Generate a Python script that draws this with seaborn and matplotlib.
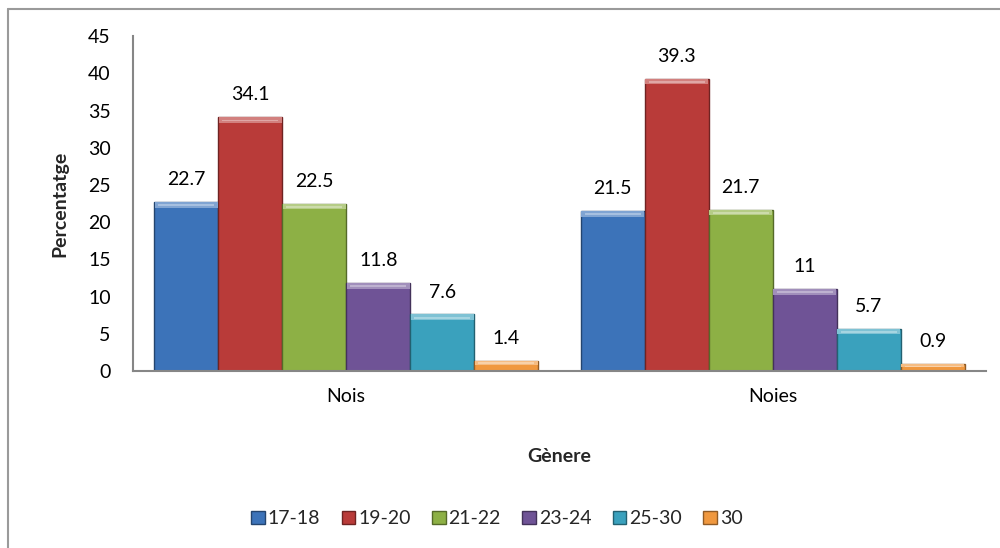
import matplotlib
matplotlib.use("Agg")
import matplotlib.pyplot as plt
import seaborn as sns
import pandas as pd
from matplotlib.patches import Rectangle
from matplotlib.lines import Line2D
import matplotlib.colors as mcolors

genders = ["Nois", "Noies"]
ages = ["17-18", "19-20", "21-22", "23-24", "25-30", "30"]
nois = [22.7, 34.1, 22.5, 11.8, 7.6, 1.4]
noies = [21.5, 39.3, 21.7, 11, 5.7, 0.9]
colors = ["#3C73B9", "#B93B39", "#8DB045", "#6F5396", "#3AA1BD", "#F0983F"]
label_text = {"Nois": ["22.7", "34.1", "22.5", "11.8", "7.6", "1.4"],
              "Noies": ["21.5", "39.3", "21.7", "11", "5.7", "0.9"]}

rows = []
for g, vals in zip(genders, [nois, noies]):
    for a, v in zip(ages, vals):
        rows.append({"Gènere": g, "Edat": a, "Percentatge": v})
df = pd.DataFrame(rows)

sns.set_theme(style="white")
plt.rcParams["font.family"] = ["Lato", "DejaVu Sans"]
FS = 14

fig = plt.figure(figsize=(10, 5.48), dpi=100)
ax = fig.add_axes([0.133, 0.323, 0.853, 0.611])

sns.barplot(data=df, x="Gènere", y="Percentatge", hue="Edat", order=genders,
            hue_order=ages, palette=colors, width=0.9, gap=0, ax=ax,
            legend=False, saturation=1, linewidth=0)

# bevel-like effects derived from the drawn bars
for i, cont in enumerate(ax.containers):
    base = mcolors.to_rgb(colors[i])
    dark = tuple(c * 0.6 for c in base)
    light = tuple(min(1, c + (1 - c) * 0.35) for c in base)
    lighter = tuple(min(1, c + (1 - c) * 0.55) for c in base)
    for p in cont.patches:
        p.set_edgecolor(dark)
        p.set_linewidth(1.0)
        x0, w, h = p.get_x(), p.get_width(), p.get_height()
        band = min(0.75, h * 0.45)
        ax.add_patch(Rectangle((x0 + w * 0.01, h - band), w * 0.98, band,
                               facecolor=light, edgecolor="none", zorder=3))
        ax.add_patch(Rectangle((x0 + w * 0.06, h - band * 0.75), w * 0.88, band * 0.35,
                               facecolor=lighter, edgecolor="none", zorder=3))

for i, cont in enumerate(ax.containers):
    labels = [label_text[g][i] for g in genders]
    ax.bar_label(cont, labels=labels, padding=10, fontsize=FS, color="#000000")

ax.set_ylim(0, 45)
ax.set_yticks(range(0, 46, 5))
ax.set_xlim(-0.5, 1.5)
ax.tick_params(axis="y", labelsize=FS, length=0, pad=16, colors="#000000")
ax.tick_params(axis="x", labelsize=FS, length=0, pad=12, colors="#000000")
ax.set_ylabel("Percentatge", fontsize=FS, fontweight="bold", labelpad=14)
ax.set_xlabel("Gènere", fontsize=FS, fontweight="bold", labelpad=31)

for s in ["top", "right"]:
    ax.spines[s].set_visible(False)
for s in ["left", "bottom"]:
    ax.spines[s].set_color("#868686")
    ax.spines[s].set_linewidth(1.5)
ax.spines["bottom"].set_zorder(5)

handles = [Rectangle((0, 0), 1, 1, facecolor=c, edgecolor=tuple(x * 0.6 for x in mcolors.to_rgb(c)))
           for c in colors]
fig.legend(handles, ages, loc="center", bbox_to_anchor=(0.497, 0.053), ncol=6,
           frameon=False, fontsize=FS, handlelength=0.7, handleheight=0.7,
           handletextpad=0.15, columnspacing=1.1)

# outer chart border (top and left visible)
fig.add_artist(Line2D([0.008, 1.0], [1 - 9 / 548, 1 - 9 / 548], transform=fig.transFigure,
                      color="#9a9a9a", linewidth=1.5))
fig.add_artist(Line2D([0.008, 0.008], [0, 1 - 9 / 548], transform=fig.transFigure,
                      color="#9a9a9a", linewidth=1.5))

fig.savefig("out.png", dpi=100, facecolor="white")
